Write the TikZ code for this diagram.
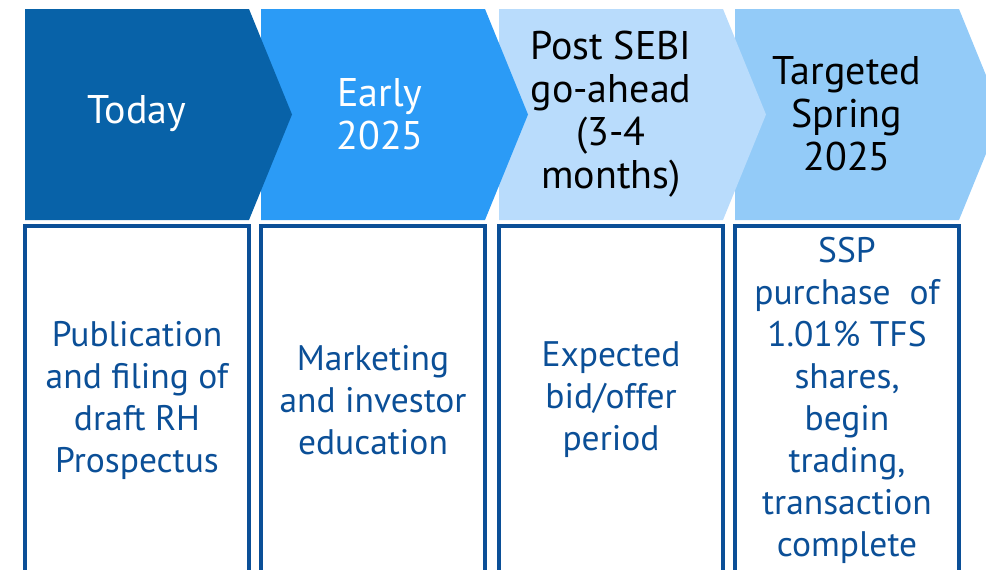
\documentclass[tikz,border=0pt]{standalone}
\usepackage{fontspec}
\setmainfont{PT Sans}
\definecolor{stepone}{HTML}{0862A8}
\definecolor{steptwo}{HTML}{2B9BF6}
\definecolor{stepthree}{HTML}{B9DCFC}
\definecolor{stepfour}{HTML}{93CBF8}
\definecolor{boxblue}{HTML}{0B4F97}

\begin{document}
\begin{tikzpicture}[x=1pt,y=-1pt,
    phase/.style={align=center,font=\fontsize{40}{43}\selectfont},
    taskbox/.style={draw=boxblue,line width=4pt,minimum width=224pt,minimum height=348pt,
      align=center,text=boxblue,font=\fontsize{35.5}{42}\selectfont}]
    \useasboundingbox (0,0) rectangle (986,570);
    \clip (0,0) rectangle (986,570);
    % arrows from the right, so every tip lies over the next one
    \foreach \x/\col in {735/stepfour,499/stepthree,261/steptwo,25/stepone}
      \fill[\col] (\x,9) -- ++(224,0) -- ++(43,105.5) -- ++(-43,105.5) -- ++(-224,0) -- cycle;
    \node[phase,text=white] (today) at (137,114) {Today};
    \node[phase,text=white] (early) at (380,114) {Early\\2025};
    \node[phase] (post) at (611,114) {Post SEBI\\go-ahead\\(3-4\\months)};
    \node[phase] (spring) at (847,114) {Targeted\\Spring\\2025};
    % boxes under each step
    \node[taskbox] (filing) at (137,400) {Publication\\and filing of\\draft RH\\Prospectus};
    \node[taskbox] (marketing) at (373,400) {Marketing\\and investor\\education};
    \node[taskbox] (offer) at (611,400) {Expected\\bid/offer\\period};
    \node[taskbox] (purchase) at (847,400) {SSP\\purchase\ \ of\\1.01\% TFS\\shares,\\begin\\trading,\\transaction\\complete};
\end{tikzpicture}
\end{document}
